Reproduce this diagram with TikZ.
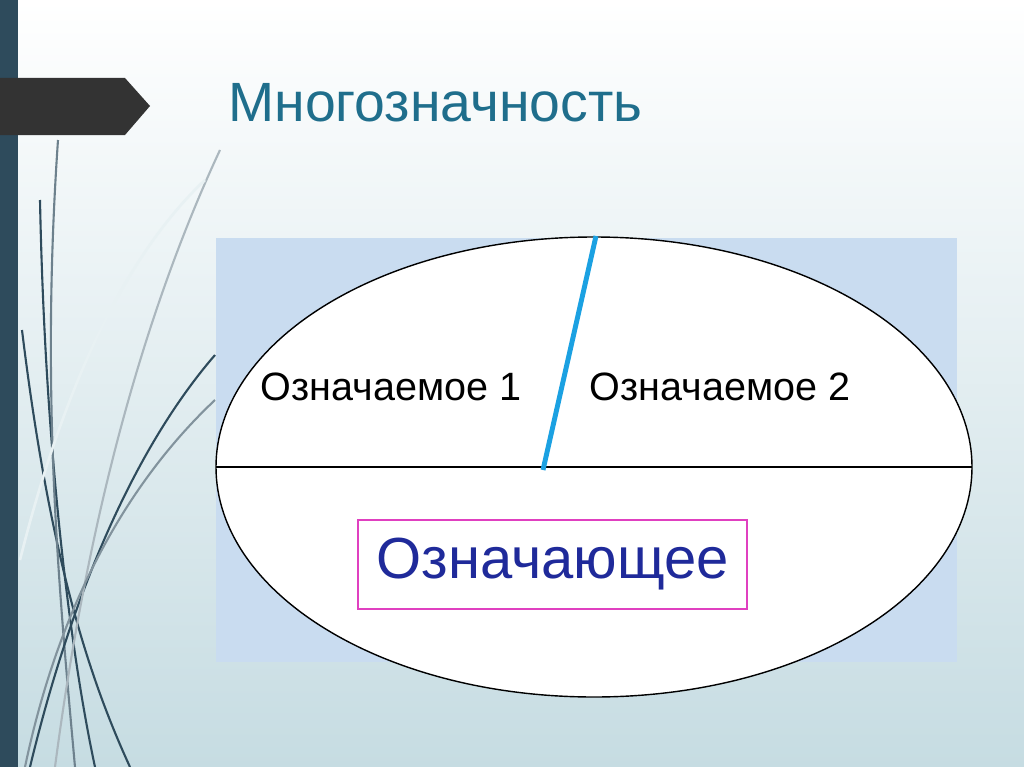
\documentclass[tikz,border=0pt]{standalone}
\usepackage{fontspec}
\setmainfont{Liberation Sans}
\begin{document}
\begin{tikzpicture}[x=0.02cm,y=-0.02cm,
  lbl/.style={font=\fontsize{22.5}{26}\selectfont},
  deco/.style={line width=1.2pt,draw=#1}]
\definecolor{bgb}{HTML}{C6DCE2}
\definecolor{bar}{HTML}{2E4B5C}
\definecolor{ttl}{HTML}{1F6E8C}
\definecolor{panel}{HTML}{C9DCF0}
\definecolor{blu}{HTML}{1BA1E2}
\definecolor{mag}{HTML}{E040C0}
\definecolor{sig}{HTML}{1F2A9A}
\useasboundingbox (0,0) rectangle (1024,767);
\shade[top color=white,bottom color=bgb] (0,0) rectangle (1024,767);
\fill[bar] (0,0) rectangle (18,767);
% decorative curves
\draw[deco=bar] (22,330) .. controls (50,560) and (90,680) .. (130,767);
\draw[deco=bar] (40,200) .. controls (45,450) and (70,650) .. (95,767);
\draw[deco=bar!70] (58,140) .. controls (40,400) and (60,600) .. (75,767);
\draw[deco=bar] (30,767) .. controls (80,560) and (150,430) .. (215,355);
\draw[deco=bar!40] (55,767) .. controls (90,500) and (150,300) .. (220,150);
\draw[deco=white!60!bgb,line width=1.5pt] (20,560) .. controls (60,400) and (120,260) .. (205,180);
\draw[deco=bar!60] (25,767) .. controls (60,600) and (130,480) .. (215,400);
% arrow
\fill[black!80] (0,78) -- (125,78) -- (150,106) -- (125,135) -- (0,135) -- cycle;
\node[anchor=base west,text=ttl,font=\fontsize{31.5}{36}\selectfont,inner sep=0] (title) at (228,122) {Многозначность};
\fill[panel] (216,238) rectangle (957,662);
\draw[fill=white,line width=0.8pt] (594,467) ellipse [x radius=378,y radius=230];
\coordinate (hl) at (216,467); \coordinate (hr) at (972,467);
\draw[line width=1.3pt] (hl) -- (hr);
\coordinate (bt) at (596,236); \coordinate (bb) at (543,470);
\draw[blu,line width=2.8pt] (bt) -- (bb);
\node[lbl] (s1) at (391,387) {Означаемое 1};
\node[lbl] (s2) at (720,387) {Означаемое 2};
\node[draw=mag,line width=0.8pt,minimum width=389*0.02cm,minimum height=89*0.02cm,text=sig,font=\fontsize{33}{36}\selectfont] (sg) at (552.5,564.5) {Означающее};
\end{tikzpicture}
\end{document}
